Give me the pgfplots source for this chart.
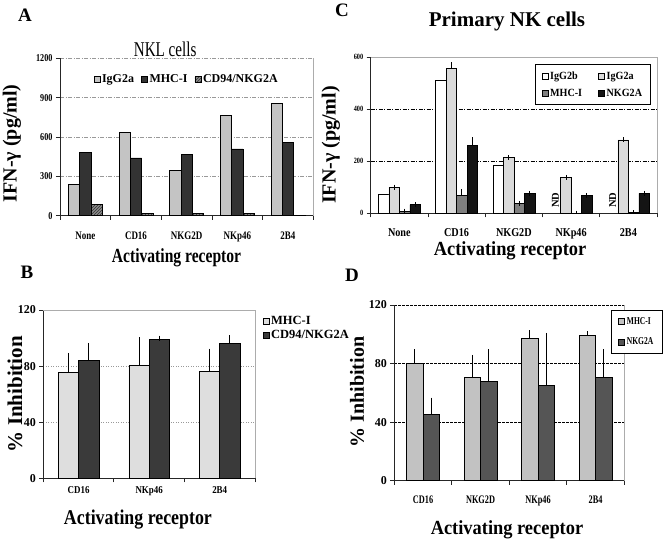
\documentclass[border=0pt]{standalone}
\usepackage{fontspec}
\setmainfont{Liberation Serif}
\newfontfamily\fA[FakeStretch=0.78]{Liberation Serif}
\newfontfamily\fB[FakeStretch=0.85]{Liberation Serif}
\newfontfamily\fC[FakeStretch=0.92]{Liberation Serif}
\newfontfamily\fT[FakeStretch=0.72]{Liberation Serif}
\usepackage{pgfplots}
\usepackage{pgfplotstable}
\pgfplotsset{compat=1.18}
\usetikzlibrary{patterns}
\newcommand{\fs}[1]{\fontsize{#1}{#1}\selectfont}

\definecolor{aIg}{HTML}{C4C4C4}
\definecolor{aMH}{HTML}{333333}
\definecolor{aCD}{HTML}{8C8C8C}
\definecolor{bMH}{HTML}{DEDEDE}
\definecolor{bCD}{HTML}{3A3A3A}
\definecolor{cIa}{HTML}{DADADA}
\definecolor{cMH}{HTML}{7F7F7F}
\definecolor{cNK}{HTML}{141414}
\definecolor{dMH}{HTML}{C2C2C2}
\definecolor{dNK}{HTML}{555555}

\pgfplotstableread{
x igg mhc cd
0 240 483 84
1 636 440 18
2 347 469 18
3 766 509 18
4 855 557 4
}\dataA

\pgfplotstableread{
x mhc mhce cd cde
0 75.5 12.1 83.8 10.9
1 80.5 18.3 98.8 1.1
2 76.2 14.5 95.9 4.3
}\dataB

\pgfplotstableread{
x a ae m me n ne
0 100 0 8 0 33 0
1 555 15 68 15 262 21
2 215 0 38 0 76 0
3 138 0 1 0 68 0
4 282 0 3 0 76 0
}\dataC

\pgfplotstableread{
x b
0 73
1 512
2 186
}\dataCb

\pgfplotstableread{
x m me n ne
0 80.1 7.8 45.1 10.0
1 70.6 13.6 67.6 20.3
2 97.2 3.9 65.1 34.2
3 99.0 1.2 70.6 17.3
}\dataD

\pgfplotsset{
  panel/.style={
    scale only axis, anchor=south west,
    axis x line*=bottom, axis y line*=left,
    axis line style={-, draw=black!85, line width=0.9pt},
    tick align=outside,
    ymajorgrids,
    major tick length=4pt, minor tick length=4pt,
    ytick style={draw=black!85, line width=0.8pt},
    major x tick style={draw=none},
    minor x tick style={draw=black!85, line width=0.8pt},
    /pgf/number format/assume math mode=true,
    /pgf/number format/1000 sep={},
    ymin=0,
    legend image code/.code={\draw[##1, line width=0.5pt] (0pt,-3pt) rectangle (6pt,3pt);},
    error bars/error bar style={black, line width=0.7pt},
    error bars/error mark options={black, line width=0.7pt, mark size=2.5pt},
    xlabel style={anchor=center},
    ylabel style={anchor=center},
    title style={anchor=center},
  },
  bars/.style={ybar, bar shift=0pt, bar width=#1, draw=black, line width=0.6pt},
  rborder/.style={extra x ticks={#1}, extra x tick labels={},
    extra x tick style={xmajorgrids=true, major tick length=0pt,
      major grid style={draw=gray!65, solid, line width=0.8pt}}},
}

\begin{document}
\begin{tikzpicture}
\useasboundingbox (0,0) rectangle (664pt,540pt);

% ---------------- Panel A ----------------
\begin{axis}[panel, at={(60pt,324.3pt)}, width=253.3pt, height=157.4pt,
  xmin=-0.5, xmax=4.5, ymax=1200, ytick={0,300,600,900,1200},
  xtick={0,...,4}, xticklabels={None,CD16,NKG2D,NKp46,2B4},
  minor xtick={-0.5,0.5,...,4.5},
  major grid style={draw=gray!80, dash pattern=on 4pt off 1.5pt on 1pt off 1.5pt, line width=0.7pt},
  rborder=4.5,
  xticklabel style={font=\fA\bfseries\fs{11.5}, yshift=-9pt},
  yticklabel style={font=\fA\bfseries\fs{10.5}},
  xlabel={Activating receptor},
  xlabel style={at={(axis description cs:0.46,-0.25)}, yshift=-3pt, font=\fA\bfseries\fs{20}},
  ylabel={IFN-γ (pg/ml)},
  ylabel style={at={(axis description cs:-0.19,0.46)}, font=\bfseries\fs{20}},
  title={NKL cells},
  title style={at={(axis description cs:0.415,1.053)}, yshift=-5pt, font=\fT\fs{21}},
  legend style={at={(0.5,0.868)}, anchor=center, draw=none, fill=none,
    legend columns=3, font=\bfseries\fs{12},
    /tikz/every even column/.append style={column sep=5pt}},
  legend cell align=left,
]
\addplot[bars=0.223, fill=aIg] table[x expr=\thisrow{x}-0.223, y=igg]{\dataA};
\addlegendentry{IgG2a}
\addplot[bars=0.223, fill=aMH] table[x=x, y=mhc]{\dataA};
\addlegendentry{MHC-I}
\addplot[bars=0.223, fill=aCD, postaction={pattern=north east lines, pattern color=black!80}] table[x expr=\thisrow{x}+0.223, y=cd]{\dataA};
\addlegendentry{CD94/NKG2A}
\end{axis}

% ---------------- Panel B ----------------
\begin{axis}[panel, at={(43.3pt,61.7pt)}, width=211.7pt, height=168.3pt,
  xmin=-0.5, xmax=2.5, ymax=120, ytick={0,40,80,120},
  xtick={0,1,2}, xticklabels={CD16,NKp46,2B4},
  minor xtick={-0.5,0.5,...,2.5},
  major grid style={draw=gray!80, dash pattern=on 1pt off 1.5pt, line width=0.7pt},
  rborder=2.5,
  extra y ticks={120}, extra y tick labels={},
  extra y tick style={ymajorgrids=true, major grid style={draw=gray!65, solid, line width=0.8pt}},
  xticklabel style={font=\fB\bfseries\fs{10.5}, yshift=-1pt},
  yticklabel style={font=\bfseries\fs{12}},
  xlabel={Activating receptor},
  xlabel style={at={(axis description cs:0.447,-0.236)}, yshift=-2pt, font=\fB\bfseries\fs{21}},
  ylabel={\% Inhibition},
  ylabel style={at={(axis description cs:-0.134,0.5)}, font=\bfseries\fs{21}},
  legend style={at={(1.03,0.985)}, anchor=north west, draw=none, fill=none,
    font=\bfseries\fs{12.5}, row sep=0pt, inner xsep=1pt},
  legend cell align=left,
]
\addplot[bars=0.287, fill=bMH, error bars/.cd, y dir=plus, y explicit]
  table[x expr=\thisrow{x}-0.1435, y=mhc, y error=mhce]{\dataB};
\addlegendentry{MHC-I}
\addplot[bars=0.287, fill=bCD, error bars/.cd, y dir=plus, y explicit]
  table[x expr=\thisrow{x}+0.1435, y=cd, y error=cde]{\dataB};
\addlegendentry{CD94/NKG2A}
\end{axis}

% ---------------- Panel C ----------------
\begin{axis}[panel, at={(370.7pt,326.7pt)}, width=286.3pt, height=156.3pt,
  xmin=-0.5, xmax=4.5, ymax=600, ytick={0,200,400,600},
  xtick={0,...,4}, xticklabels={None,CD16,NKG2D,NKp46,2B4},
  minor xtick={-0.5,0.5,...,4.5},
  major grid style={draw=black, dash pattern=on 4pt off 1.5pt on 1pt off 1.5pt, line width=0.7pt},
  rborder=4.5,
  extra y ticks={600}, extra y tick labels={},
  extra y tick style={ymajorgrids=true, major grid style={draw=gray!65, solid, line width=0.8pt}},
  xticklabel style={font=\fB\bfseries\fs{12}, yshift=-8pt},
  yticklabel style={font=\fA\bfseries\fs{8}},
  xlabel={Activating receptor},
  xlabel style={at={(axis description cs:0.487,-0.222)}, yshift=-3pt, font=\fC\bfseries\fs{20}},
  ylabel={IFN-γ (pg/ml)},
  ylabel style={at={(axis description cs:-0.139,0.437)}, font=\bfseries\fs{20}},
  title={Primary NK cells},
  title style={at={(axis description cs:0.476,1.237)}, yshift=-8pt, font=\bfseries\fs{21}},
  legend style={at={(0.978,0.955)}, anchor=north east, draw=black, line width=1.2pt,
    legend columns=2, font=\fC\bfseries\fs{11},
    /tikz/every even column/.append style={column sep=14pt}, row sep=4pt,
    inner xsep=6pt, inner ysep=5pt},
  legend cell align=left,
]
\addplot[bars=0.183, fill=white] table[x expr=\thisrow{x}-0.2745, y=b]{\dataCb};
\addlegendentry{IgG2b}
\addplot[bars=0.183, fill=cIa, error bars/.cd, y dir=plus, y explicit]
  table[x expr=\thisrow{x}-0.0915, y=a, y error=ae]{\dataC};
\addlegendentry{IgG2a}
\addplot[bars=0.183, fill=cMH, error bars/.cd, y dir=plus, y explicit]
  table[x expr=\thisrow{x}+0.0915, y=m, y error=me]{\dataC};
\addlegendentry{MHC-I}
\addplot[bars=0.183, fill=cNK, error bars/.cd, y dir=plus, y explicit]
  table[x expr=\thisrow{x}+0.2745, y=n, y error=ne]{\dataC};
\addlegendentry{NKG2A}
\node[rotate=90, font=\bfseries\fs{10.5}] at (axis cs:2.7255,51) {ND};
\node[rotate=90, font=\bfseries\fs{10.5}] at (axis cs:3.7255,51) {ND};
\end{axis}

% ---------------- Panel D ----------------
\begin{axis}[panel, at={(394.3pt,59.3pt)}, width=230pt, height=175.7pt,
  xmin=-0.5, xmax=3.5, ymax=120, ytick={0,40,80,120},
  xtick={0,...,3}, xticklabels={CD16,NKG2D,NKp46,2B4},
  minor xtick={-0.5,0.5,...,3.5},
  major grid style={draw=black, dash pattern=on 2.5pt off 1.5pt, line width=0.8pt},
  rborder=3.5,
  xticklabel style={font=\fT\bfseries\fs{11.5}, yshift=-8pt},
  yticklabel style={font=\bfseries\fs{12}},
  xlabel={Activating receptor},
  xlabel style={at={(axis description cs:0.49,-0.264)}, yshift=-3pt, font=\fC\bfseries\fs{20}},
  ylabel={\% Inhibition},
  ylabel style={at={(axis description cs:-0.162,0.505)}, font=\bfseries\fs{20}},
  legend style={at={(0.942,0.972)}, anchor=north west, draw=black, line width=0.8pt,
    fill=white, font=\fT\bfseries\fs{10.5}, row sep=8pt, inner ysep=5pt, inner xsep=7pt},
  legend cell align=left,
]
\addplot[bars=0.287, fill=dMH, error bars/.cd, y dir=plus, y explicit]
  table[x expr=\thisrow{x}-0.1435, y=m, y error=me]{\dataD};
\addlegendentry{MHC-I}
\addplot[bars=0.287, fill=dNK, error bars/.cd, y dir=plus, y explicit]
  table[x expr=\thisrow{x}+0.1435, y=n, y error=ne]{\dataD};
\addlegendentry{NKG2A}
\end{axis}

% panel letters
\node[font=\bfseries\fs{19}] at (25pt,525pt) {A};
\node[font=\bfseries\fs{19}] at (27pt,268pt) {B};
\node[font=\bfseries\fs{19}] at (342pt,530pt) {C};
\node[font=\bfseries\fs{19}] at (352pt,265pt) {D};
\end{tikzpicture}
\end{document}
